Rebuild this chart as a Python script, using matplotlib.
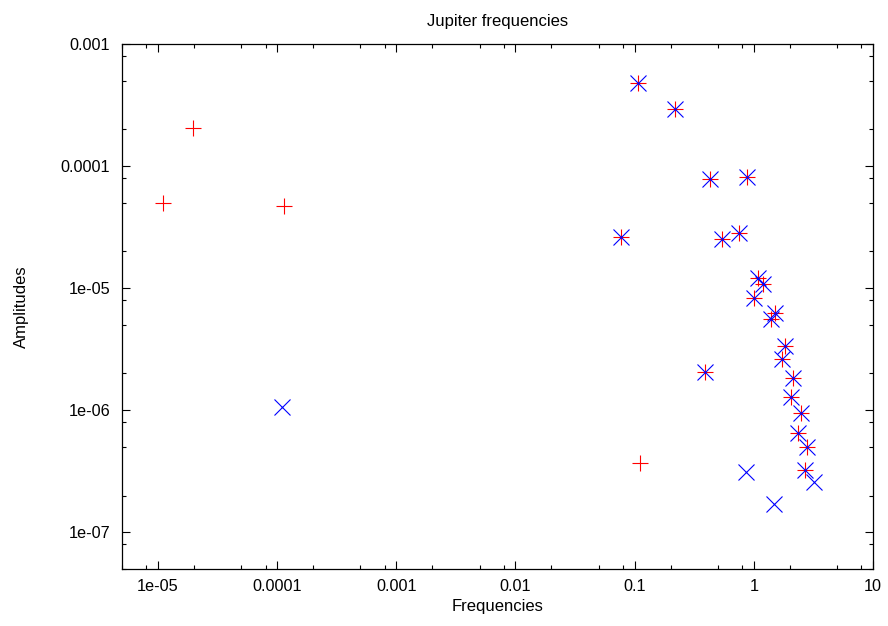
import matplotlib
matplotlib.use('Agg')
import matplotlib.pyplot as plt
from matplotlib.ticker import LogLocator, NullFormatter

# Fuente tipo Arial (gnuplot)
plt.rcParams['font.family'] = ['Liberation Sans', 'DejaVu Sans']

# Serie 1 (rojo, +)
frec_rojo = [1.11e-5, 1.99e-5, 1.14e-4, 0.111,
             0.106, 0.218, 0.430, 0.873, 0.0762, 0.545, 0.754, 0.390,
             1.094, 1.19, 1.01, 1.51, 1.39, 1.83, 1.72, 2.15, 2.06,
             2.50, 2.37, 2.82, 2.70]
amp_rojo = [4.97e-5, 2.05e-4, 4.69e-5, 3.66e-7,
            4.75e-4, 2.92e-4, 7.88e-5, 8.13e-5, 2.61e-5, 2.53e-5, 2.84e-5, 2.07e-6,
            1.21e-5, 1.09e-5, 8.30e-6, 6.24e-6, 5.57e-6, 3.36e-6, 2.61e-6, 1.84e-6, 1.29e-6,
            9.53e-7, 6.45e-7, 4.98e-7, 3.22e-7]

# Serie 2 (azul, x)
frec_azul = [1.11e-4, 0.857, 1.47, 3.17,
             0.106, 0.218, 0.430, 0.873, 0.0762, 0.545, 0.754, 0.390,
             1.094, 1.19, 1.01, 1.51, 1.39, 1.83, 1.72, 2.15, 2.06,
             2.50, 2.37, 2.82, 2.70]
amp_azul = [1.07e-6, 3.12e-7, 1.70e-7, 2.57e-7,
            4.75e-4, 2.92e-4, 7.88e-5, 8.13e-5, 2.61e-5, 2.53e-5, 2.84e-5, 2.07e-6,
            1.21e-5, 1.09e-5, 8.30e-6, 6.24e-6, 5.57e-6, 3.36e-6, 2.61e-6, 1.84e-6, 1.29e-6,
            9.53e-7, 6.45e-7, 4.98e-7, 3.22e-7]

# Etiquetas de los ejes
xticks_val = [1e-5, 1e-4, 1e-3, 1e-2, 1e-1, 1, 10]
xticks_txt = ['1e-05', '0.0001', '0.001', '0.01', '0.1', '1', '10']
yticks_val = [1e-7, 1e-6, 1e-5, 1e-4, 1e-3]
yticks_txt = ['1e-07', '1e-06', '1e-05', '0.0001', '0.001']

fig = plt.figure(figsize=(8.88, 6.26), dpi=100)
ax = fig.add_axes([122/888, 57/626, 751/888, 525/626])

ax.plot(frec_rojo, amp_rojo, '+', color='red', ms=12, mew=0.8, linestyle='none')
ax.plot(frec_azul, amp_azul, 'x', color='blue', ms=12, mew=0.8, linestyle='none')

ax.set_xscale('log')
ax.set_yscale('log')
ax.set_xlim(5e-6, 10)
ax.set_ylim(5e-8, 1e-3)

ax.set_xticks(xticks_val, xticks_txt)
ax.set_yticks(yticks_val, yticks_txt)
ax.xaxis.set_minor_locator(LogLocator(base=10, subs=[2, 5, 8], numticks=30))
ax.yaxis.set_minor_locator(LogLocator(base=10, subs=[2, 5, 8], numticks=30))
ax.xaxis.set_minor_formatter(NullFormatter())
ax.yaxis.set_minor_formatter(NullFormatter())

ax.tick_params(which='both', direction='in', top=True, right=True,
               labelsize=11.7, width=0.8)
ax.tick_params(which='major', length=5.5)
ax.tick_params(which='minor', length=3)
ax.tick_params(axis='x', pad=7)
ax.tick_params(axis='y', pad=8.5)

for s in ax.spines.values():
    s.set_linewidth(0.9)

ax.set_title('Jupiter frequencies', fontsize=12, pad=13)
ax.set_xlabel('Frequencies', fontsize=12, labelpad=4)
ax.set_ylabel('Amplitudes', fontsize=12, labelpad=23)

fig.savefig('out.png', dpi=100)
